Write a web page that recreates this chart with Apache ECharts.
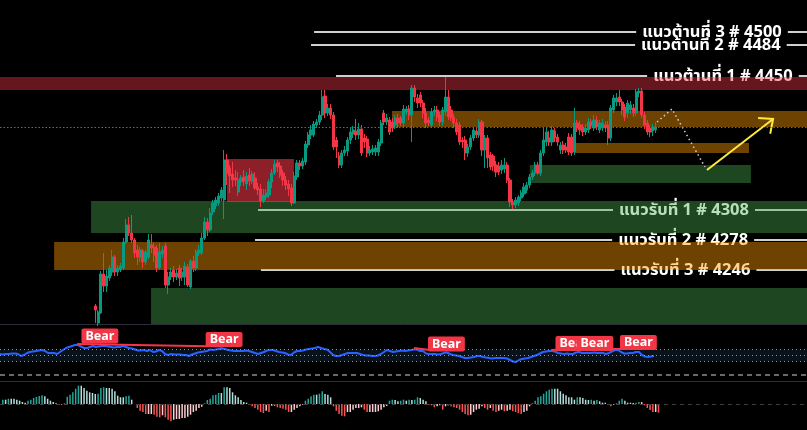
<!DOCTYPE html>
<html>
<head>
<meta charset="utf-8">
<script src="https://cdn.jsdelivr.net/npm/echarts@6.0.0/dist/echarts.min.js"></script>
<style>
html,body{margin:0;padding:0;background:#000;overflow:hidden;}
#chart{width:807px;height:430px;}
</style>
</head>
<body>
<div id="chart"></div>
<script>
// ================= DATA =================
// Candles [open, close, low, high], one per bar slot
const candlesA = [
[4212,4208,4195,4214],[4195,4206,4192,4208],[4205,4244,4204,4247],[4244,4232,4226,4265],[4232,4242,4226,4248],
[4240,4250,4237,4253],[4246,4261,4242,4268],[4261,4246,4242,4263],[4246,4250,4242,4253],[4248,4252,4246,4255],
[4250,4276,4248,4280],[4276,4293,4274,4299],[4293,4285,4282,4301],[4285,4278,4275,4303],[4278,4265,4260,4280],
[4268,4261,4253,4273],[4261,4268,4256,4271],[4267,4256,4250,4269],[4256,4266,4253,4268],[4261,4278,4259,4284],
[4273,4270,4265,4284],[4271,4263,4256,4275],[4270,4250,4246,4273],[4250,4266,4248,4275],[4264,4268,4260,4272],
[4272,4233,4230,4275],[4233,4241,4224,4246],[4241,4246,4238,4250],[4248,4241,4236,4252],[4241,4245,4238,4249],
[4250,4240,4232,4253],[4241,4246,4237,4250],[4241,4252,4233,4256],[4251,4233,4231,4254],[4231,4257,4229,4259],
[4257,4250,4246,4262],[4250,4266,4247,4269],[4265,4268,4262,4273],[4265,4280,4263,4285],[4280,4296,4278,4301],
[4296,4288,4282,4300],[4288,4305,4286,4310],[4306,4315,4303,4318],[4312,4318,4309,4321],[4315,4322,4312,4325],
[4320,4328,4317,4331],[4318,4358,4299,4368]
];
const candlesB = [
[4358,4345,4333,4364],[4350,4342,4325,4353],[4344,4338,4331,4356],[4340,4338,4332,4348],[4326,4338,4322,4346],
[4336,4340,4332,4343],[4341,4337,4332,4348],[4334,4342,4328,4346],[4343,4337,4332,4350],[4337,4344,4334,4347],
[4340,4330,4328,4346],[4331,4328,4323,4335],[4329,4317,4311,4334],[4317,4323,4315,4329],[4321,4325,4318,4329],
[4323,4336,4320,4339],[4336,4345,4330,4349],[4345,4354,4343,4358],[4355,4351,4346,4358],[4352,4343,4340,4356],
[4345,4338,4332,4348],[4338,4333,4328,4342],[4334,4329,4322,4338],[4330,4315,4312,4334],[4315,4342,4314,4346]
];
const candlesC = [
[4341,4355,4338,4358],[4355,4352,4348,4358],[4352,4357,4349,4360],[4356,4374,4353,4377],[4373,4383,4370,4386],
[4383,4388,4379,4393],[4383,4394,4381,4397],[4393,4396,4390,4399],[4396,4403,4393,4407],[4403,4421,4398,4428],
[4422,4405,4400,4428],[4405,4410,4402,4414],[4410,4403,4399,4414],[4403,4371,4368,4406],[4378,4371,4360,4381],
[4362,4353,4350,4366],[4353,4365,4350,4368],[4365,4368,4362,4372],[4367,4378,4362,4381],[4378,4386,4374,4391],
[4384,4388,4380,4392],[4387,4383,4378,4399],[4383,4389,4379,4395],[4389,4365,4362,4393],[4380,4376,4370,4384],
[4379,4365,4361,4382],[4365,4368,4362,4372],[4366,4369,4363,4373],[4366,4370,4362,4373],[4366,4376,4362,4379],
[4375,4395,4372,4398],[4405,4396,4393,4408],[4396,4400,4393,4404],[4398,4386,4383,4401],[4396,4390,4386,4400],
[4393,4400,4389,4403],[4400,4395,4390,4404],[4400,4395,4392,4402],[4395,4409,4390,4413],[4406,4409,4403,4412],
[4409,4403,4398,4413],[4403,4430,4376,4433],[4430,4421,4416,4433],[4420,4415,4410,4424],[4423,4415,4411,4426],
[4415,4405,4400,4418],[4405,4395,4390,4410],[4398,4395,4392,4401],[4393,4406,4390,4410],[4406,4408,4402,4412],
[4408,4401,4397,4412],[4403,4396,4392,4406],[4396,4408,4392,4411],[4406,4421,4402,4441],[4421,4401,4398,4428],
[4408,4400,4397,4412],[4401,4395,4390,4404],[4395,4386,4383,4399],[4393,4376,4373,4396],[4378,4376,4370,4381],
[4378,4365,4358,4382],[4365,4371,4361,4374],[4371,4380,4368,4383],[4380,4388,4377,4391],[4387,4383,4380,4390],
[4383,4396,4380,4399],[4396,4368,4362,4398],[4368,4380,4350,4383],[4380,4360,4350,4383],[4363,4351,4348,4366],
[4362,4352,4347,4364],[4353,4346,4341,4357],[4352,4346,4343,4356],[4348,4353,4344,4358],[4349,4353,4345,4360],
[4353,4338,4335,4356],[4338,4316,4311,4340],[4316,4313,4309,4319],[4313,4318,4310,4321],[4315,4321,4312,4323],
[4320,4325,4317,4328],[4324,4331,4321,4335],[4328,4333,4325,4336]
];
const candlesD = [
[4333,4341,4330,4344],[4341,4345,4338,4348],[4345,4353,4342,4356],[4353,4345,4343,4356],[4345,4365,4342,4368],
[4365,4378,4362,4391],[4376,4386,4372,4390],[4380,4376,4372,4387],[4376,4388,4372,4392],[4387,4380,4376,4390],
[4381,4376,4372,4384],[4368,4373,4364,4376],[4373,4368,4364,4377],[4371,4368,4365,4375],[4381,4366,4363,4385],
[4381,4365,4362,4384],[4366,4395,4363,4410],[4395,4390,4386,4398],[4393,4388,4383,4397],[4391,4386,4382,4394],
[4386,4390,4383,4394],[4388,4396,4385,4400],[4396,4393,4389,4399],[4390,4398,4387,4403],[4398,4391,4388,4402],
[4388,4395,4385,4398],[4390,4395,4387,4399],[4393,4390,4386,4397],[4393,4380,4373,4397],[4380,4410,4377,4413],
[4408,4420,4405,4423],[4416,4420,4412,4425],[4421,4416,4412,4428],[4416,4408,4403,4419],[4411,4401,4397,4414],
[4405,4415,4400,4418],[4408,4413,4404,4417],[4410,4405,4401,4414],[4405,4426,4402,4429],[4425,4427,4421,4430],
[4427,4403,4400,4430],[4403,4393,4389,4406],[4395,4386,4383,4398],[4390,4386,4381,4393],[4387,4391,4382,4394],
[4388,4391,4385,4396]
];
const candles = candlesA.concat(candlesB, candlesC, candlesD);
const FIRST_CANDLE_BAR = 34;   // bar slot of the first visible candle
const BAR_SLOTS = 289;         // bar slots across the width

// Horizontal support / resistance levels
const levelNames  = ['แนวต้านที่ 3 # 4500','แนวต้านที่ 2 # 4484','แนวต้านที่ 1 # 4450','แนวรับที่ 1 # 4308','แนวรับที่ 2 # 4278','แนวรับที่ 3 # 4246'];
const levelPrices = [4486, 4473, 4442, 4308, 4278, 4248];
const levelStartBars = [112.1, 111.0, 119.9, 92.1, 91.0, 93.1];
const levelLabelBars = [254.1, 253.7, 258.0, 244.1, 243.8, 244.6];

// Zones: [startBar, endBar], [topPrice, bottomPrice], kind
const zoneBars   = [[0,288],[139.9,288],[205.2,267.3],[189.1,268],[81,104.9],[32.5,288],[19.3,288],[53.9,288]];
const zonePrices = [[4441,4428],[4407,4391],[4375,4365],[4353,4335],[4359,4316],[4317,4285],[4276,4248],[4230,4194]];
const zoneKinds  = ['red','orange','orange','green','redbox','green','orange','green'];

// Projected path (dotted) and yellow arrow
const projectionBars   = [234.5, 239.8, 251.6];
const projectionPrices = [4396, 4409, 4351];
const arrowBars   = [252.3, 275.9];
const arrowPrices = [4348, 4399];

// RSI panel (samples every 3 px)
const RSI_SLOTS = 270;
const rsiValues = [
53,52,53,53,54,54,53,49,51,55,57,58,59,60,61,59,55,55,55,53,
57,61,65,67,69,71,71,68,65,65,67,69,67,68,69,69,68,67,66,67,
67,69,67,65,64,62,60,60,61,59,61,57,58,61,59,53,51,53,52,52,
52,51,51,49,52,54,56,57,58,59,62,61,62,63,64,63,61,60,59,59,
59,59,60,59,57,55,53,55,57,60,61,
61,59,57,56,55,52,51,56,59,
59,60,62,63,64,65,67,65,63,62,57,51,49,49,51,53,55,55,55,55,
53,51,50,50,49,49,50,53,57,61,59,57,58,59,60,59,60,61,62,62,
59,59,54,53,53,53,52,53,55,56,53,51,50,49,47,45,45,46,47,49,
49,47,46,45,44,45,45,45,45,44,41,38,37,41,
43,44,45,47,49,51,54,57,58,59,59,58,55,54,53,54,
53,53,56,57,55,55,55,55,56,55,55,55,53,55,58,61,61,57,54,54,
55,55,57,57,51,48,47,48,49
];
const rsiBandLevels = [62, 50, 38];
const rsiBaseLevel = 12;
const bearText = 'Bear';
const bearBars   = [33.3, 74.7, 148.8, 191.3, 198.3, 212.8];
const bearLevels = [89, 82, 73, 74, 74, 76];
const divergenceBars   = [[25.7,74.3],[138,143.3],[183.7,191.7],[203.3,207.3]];
const divergenceLevels = [[73,68],[65,61],[61,63],[63,63]];

// MACD histogram (one per bar slot starting at slot 1)
const MACD_FIRST_BAR = 1;
const macdHist = [
4.3,4.3,5.3,5.3,5.3,4.3,3.3,2,1.3,3.3,4.3,6,7,8,8.7,7.7,5.3,3.3,2,0.7,
-0.7,-1,0.7,7.3,9.3,11.7,15.3,18.3,18.3,16,13.3,11.7,11,10,10.3,16,16.7,16,16,15.3,
12.7,8.3,6.7,6.7,7.7,8.3,4.3,0,-4,-6.7,-8,-10,-10,-10,-10.7,-12.7,-13.3,-11.3,-13.3,-15.7,
-17.3,-15.7,-15,-15,-14,-14,-12.7,-10.7,-8,-6.7,-4,-2.7,0.7,4,5.3,8.7,9.3,11,11,16.7,
16.7,16,11.7,8.7,6.7,4,2,1.3,-0.7,-2.3,-4,-5.7,-8,-9,-6.7,-8,
-1.7,-1.7,-3.3,-4,-4.7,-5.7,-8,-8,-5.7,-4,-2.3,-0.7,3.3,5.3,7.7,9.3,9.3,10.3,12.7,10,
9.3,6.7,-2.3,-6.7,-10,-11.7,-12.3,-8,-8,-5.7,-4,-4,-3.3,-5.7,-8,-8,-8,-8,-7.3,-5.7,
-3.3,-2,3.3,4.3,4,2.7,3.3,4.3,3.3,4.3,4,4.3,6.7,6,4.3,2.7,-0.7,-1.3,-3.3,-2.3,
-1.3,-5.7,-2.3,-1.3,-2.3,-3.3,-4,-5.7,-8,-10,-11.3,-10.7,-8,-5.7,-4.7,-2.3,-4,-5.7,-4,-6.7,
-8,-6.7,-5.7,-7.3,-6.7,-5.7,-7.3,-8,-9,-10,-8,-6.7,
-2.3,0.7,3.3,6.7,7.7,10.3,12.7,14.3,15.3,15.3,15.3,12.7,10.3,8.7,6.7,6.7,4.3,6.7,6.7,6,
4.3,4,4.3,3.3,4,2.7,1.3,1.3,-0.7,-2.3,-0.7,0.7,3.3,5.3,3.3,1.3,1.3,1,1.3,2,2,-1.3,-4,-6,-8,-8,-8.7
];

// ================= STYLE =================
const UP = '#089981', DOWN = '#f23645';
const ZONE_COLORS = {
  red: 'rgba(242,54,69,0.42)',
  redbox: 'rgba(242,54,69,0.58)',
  orange: 'rgba(255,152,0,0.43)',
  green: 'rgba(76,175,80,0.40)'
};
const LEVEL_FONT = 'bold 16.5px "Noto Sans Thai", "Noto Sans", "DejaVu Sans", sans-serif';
const LEVEL_TEXT_DY = 2;
const BEAR_FONT = 'bold 12.5px "Noto Sans", "DejaVu Sans", sans-serif';

// ================= BUILD =================
const slots = Array.from({length: BAR_SLOTS}, (_, i) => String(i));
const rsiSlots = Array.from({length: RSI_SLOTS}, (_, i) => String(i));
const candleRows = candles.map((c, k) => [FIRST_CANDLE_BAR + k, c[0], c[1], c[2], c[3]]);
const lastClose = candles[candles.length - 1][1];
const macdRows = macdHist.map((v, k) => {
  const prev = k > 0 ? macdHist[k - 1] : 0;
  let color;
  if (v >= 0) color = v > prev ? '#26a69a' : '#b2dfdb';
  else color = v < prev ? '#ff5252' : '#ffcdd2';
  return {value: [MACD_FIRST_BAR + k, v], itemStyle: {color}};
});

const chart = echarts.init(document.getElementById('chart'));
chart.setOption({
  backgroundColor: '#000',
  animation: false,
  grid: [
    {left: 0, right: 0, top: 0, height: 324},
    {left: 0, right: 0, top: 325, height: 56},
    {left: 0, right: 0, top: 382, height: 48}
  ],
  xAxis: [
    {type: 'category', gridIndex: 0, data: slots, boundaryGap: false,
     axisLine: {show: true, onZero: false, lineStyle: {color: '#2a2e39', width: 1}},
     axisTick: {show: false}, axisLabel: {show: false}, splitLine: {show: false}},
    {type: 'value', gridIndex: 0, min: 0, max: BAR_SLOTS - 1, show: false},
    {type: 'category', gridIndex: 1, data: rsiSlots, boundaryGap: false,
     axisLine: {show: true, onZero: false, lineStyle: {color: '#2a2e39', width: 1}},
     axisTick: {show: false}, axisLabel: {show: false}, splitLine: {show: false}},
    {type: 'value', gridIndex: 1, min: 0, max: RSI_SLOTS - 1, show: false},
    {type: 'category', gridIndex: 2, data: slots, boundaryGap: false, show: false}
  ],
  yAxis: [
    {type: 'value', gridIndex: 0, min: 4194, max: 4518, show: false, splitLine: {show: false}},
    {type: 'value', gridIndex: 1, min: -1, max: 111, show: false, splitLine: {show: false}},
    {type: 'value', gridIndex: 2, min: -26, max: 22, show: false, splitLine: {show: false}}
  ],
  series: [
    { // level lines + labels
      type: 'custom', xAxisIndex: 1, yAxisIndex: 0, z: 1, silent: true,
      data: levelPrices.map((p, i) => [levelStartBars[i], p, levelLabelBars[i]]),
      renderItem(params, api) {
        const i = params.dataIndex;
        const a = api.coord([api.value(0), api.value(1)]);
        const b = api.coord([BAR_SLOTS - 1, api.value(1)]);
        const t = api.coord([api.value(2), api.value(1)]);
        return {type: 'group', children: [
          {type: 'line', shape: {x1: a[0], y1: a[1], x2: b[0], y2: b[1]}, style: {stroke: '#d0d0d0', lineWidth: 2}},
          {type: 'text', x: t[0], y: t[1] + LEVEL_TEXT_DY, style: {text: levelNames[i], fill: '#ffffff', font: LEVEL_FONT,
            align: 'center', verticalAlign: 'middle', backgroundColor: '#000', padding: [0, 6]}}
        ]};
      }
    },
    { // zones
      type: 'custom', xAxisIndex: 1, yAxisIndex: 0, z: 2, silent: true, clip: true,
      data: zoneBars.map((b, i) => [b[0], zonePrices[i][0], b[1], zonePrices[i][1]]),
      renderItem(params, api) {
        const p0 = api.coord([api.value(0), api.value(1)]);
        const p1 = api.coord([api.value(2), api.value(3)]);
        return {type: 'rect', shape: {x: p0[0], y: p0[1], width: p1[0] - p0[0], height: p1[1] - p0[1]},
          style: {fill: ZONE_COLORS[zoneKinds[params.dataIndex]]}};
      }
    },
    { // candles
      type: 'candlestick', xAxisIndex: 0, yAxisIndex: 0, z: 3,
      data: candleRows, encode: {x: 0, y: [1, 2, 3, 4]},
      barWidth: 2.6,
      itemStyle: {color: UP, color0: DOWN, borderColor: UP, borderColor0: DOWN, borderWidth: 1},
      markLine: {silent: true, symbol: ['none', 'none'], label: {show: false},
        lineStyle: {color: UP, width: 1, type: [1.5, 2]}, data: [{yAxis: lastClose}]}
    },
    { // projected path
      type: 'line', xAxisIndex: 1, yAxisIndex: 0, z: 4, silent: true, symbol: 'none',
      data: projectionBars.map((b, i) => [b, projectionPrices[i]]),
      lineStyle: {color: '#cfcfcf', width: 1.5, type: [1.5, 3]}
    },
    { // arrow
      type: 'custom', xAxisIndex: 1, yAxisIndex: 0, z: 4, silent: true,
      data: [[arrowBars[0], arrowPrices[0], arrowBars[1], arrowPrices[1]]],
      renderItem(params, api) {
        const a = api.coord([api.value(0), api.value(1)]);
        const b = api.coord([api.value(2), api.value(3)]);
        const ang = Math.atan2(b[1] - a[1], b[0] - a[0]);
        const L = 15, s = 0.72;
        const h1 = [b[0] - L * Math.cos(ang - s), b[1] - L * Math.sin(ang - s)];
        const h2 = [b[0] - L * Math.cos(ang + s), b[1] - L * Math.sin(ang + s)];
        return {type: 'group', children: [
          {type: 'line', shape: {x1: a[0], y1: a[1], x2: b[0], y2: b[1]}, style: {stroke: '#ffeb3b', lineWidth: 2}},
          {type: 'polyline', shape: {points: [h1, b, h2]}, style: {stroke: '#ffeb3b', lineWidth: 2, fill: null}}
        ]};
      }
    },
    { // RSI
      type: 'line', xAxisIndex: 2, yAxisIndex: 1, z: 3, silent: true, symbol: 'none',
      data: rsiValues, lineStyle: {color: '#2962ff', width: 2},
      markArea: {silent: true, itemStyle: {color: 'rgba(60,120,180,0.15)'},
        data: [[{yAxis: rsiBandLevels[0]}, {yAxis: rsiBandLevels[2]}]]},
      markLine: {silent: true, symbol: ['none', 'none'], label: {show: false},
        lineStyle: {color: '#8a9aa6', width: 1, type: [1, 3]},
        data: rsiBandLevels.map(v => ({yAxis: v})).concat([
          {yAxis: rsiBaseLevel, lineStyle: {color: '#8c8c8c', width: 1.5, type: [5, 4]}}])}
    },
    { // divergence lines
      type: 'custom', xAxisIndex: 3, yAxisIndex: 1, z: 5, silent: true,
      data: divergenceBars.map((b, i) => [b[0], divergenceLevels[i][0], b[1], divergenceLevels[i][1]]),
      renderItem(params, api) {
        const a = api.coord([api.value(0), api.value(1)]);
        const b = api.coord([api.value(2), api.value(3)]);
        return {type: 'line', shape: {x1: a[0], y1: a[1], x2: b[0], y2: b[1]}, style: {stroke: DOWN, lineWidth: 2}};
      }
    },
    { // Bear labels
      type: 'custom', xAxisIndex: 3, yAxisIndex: 1, z: 6, silent: true,
      data: bearBars.map((b, i) => [b, bearLevels[i]]),
      renderItem(params, api) {
        const p = api.coord([api.value(0), api.value(1)]);
        return {type: 'text', x: p[0], y: p[1], style: {text: bearText, fill: '#fff', font: BEAR_FONT,
          align: 'center', verticalAlign: 'middle', backgroundColor: DOWN, padding: [1, 4], borderRadius: 2}};
      }
    },
    { // MACD histogram
      type: 'bar', xAxisIndex: 4, yAxisIndex: 2, silent: true, barWidth: 1.5,
      data: macdRows,
      markLine: {silent: true, symbol: ['none', 'none'], label: {show: false},
        lineStyle: {color: '#3f3f3f', width: 1, type: [4, 4]}, data: [{yAxis: 0}]}
    }
  ]
});
</script>
</body>
</html>
